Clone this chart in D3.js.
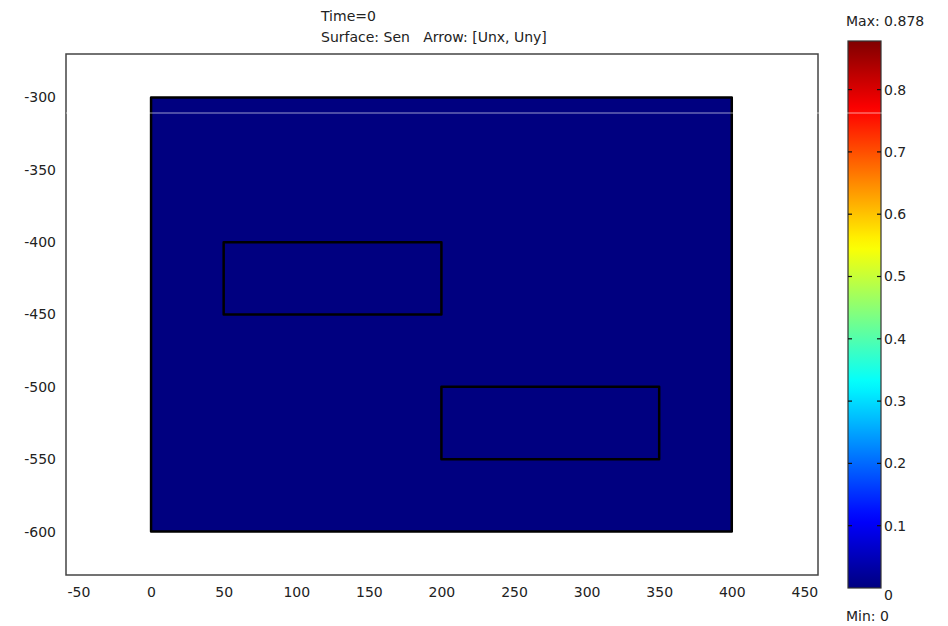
<!DOCTYPE html>
<html><head><meta charset="utf-8">
<script src="https://cdn.jsdelivr.net/npm/d3@7"></script>
<style>body{margin:0;background:#fff}text{font-family:"DejaVu Sans",Verdana,sans-serif;font-size:14px;fill:#222}</style>
</head><body><svg id="c" width="948" height="626"></svg>
<script>
const titleLines = ["Time=0", "Surface: Sen   Arrow: [Unx, Uny]"];
const xTicks = [-50, 0, 50, 100, 150, 200, 250, 300, 350, 400, 450];
const yTicks = [-300, -350, -400, -450, -500, -550, -600];
const cbTicks = [0, 0.1, 0.2, 0.3, 0.4, 0.5, 0.6, 0.7, 0.8];
const domainRect = [0, -600, 400, -300];       // x0,y0,x1,y1
const subRects = [[50, -450, 200, -400], [200, -550, 350, -500]];
const surfaceValue = 0;
const minVal = 0, maxVal = 0.878;

const svg = d3.select("#c");
const x = d3.scaleLinear().domain([-58.6, 459.4]).range([66, 818]);
const y = d3.scaleLinear().domain([-630, -270]).range([575, 54]);

function jet(t){
  const c = v => Math.max(0, Math.min(1, v));
  const r = c(1.5 - Math.abs(4*t - 3));
  const g = c(1.5 - Math.abs(4*t - 2));
  const b = c(1.5 - Math.abs(4*t - 1));
  return d3.rgb(r*255, g*255, b*255).formatHex();
}
const color = v => jet((v - minVal)/(maxVal - minVal));

// title
svg.selectAll("text.title").data(titleLines).enter().append("text")
  .attr("class","title").attr("x", 321).attr("y",(d,i)=>21+i*21)
  .attr("xml:space","preserve").style("white-space","pre").text(d=>d);

// domain
svg.append("rect").attr("x", x(domainRect[0])).attr("y", y(domainRect[3]))
  .attr("width", x(domainRect[2])-x(domainRect[0])).attr("height", y(domainRect[1])-y(domainRect[3]))
  .attr("fill", color(surfaceValue)).attr("stroke","#000").attr("stroke-width",2.5).attr("stroke-linejoin","round");
svg.selectAll("rect.sub").data(subRects).enter().append("rect").attr("class","sub")
  .attr("x", d=>x(d[0])).attr("y", d=>y(d[3]))
  .attr("width", d=>x(d[2])-x(d[0])).attr("height", d=>y(d[1])-y(d[3]))
  .attr("fill","none").attr("stroke","#000").attr("stroke-width",2.5).attr("stroke-linejoin","round");

// frame
svg.append("rect").attr("x",66).attr("y",54).attr("width",752).attr("height",521)
  .attr("fill","none").attr("stroke","#444").attr("stroke-width",1.5);

// axes
const fmt = d => String(d);
const xa = svg.append("g").attr("transform","translate(0,575)")
  .call(d3.axisBottom(x).tickValues(xTicks).tickSize(0).tickPadding(12).tickFormat(fmt));
xa.select(".domain").remove();
const ya = svg.append("g").attr("transform","translate(66,0)")
  .call(d3.axisLeft(y).tickValues(yTicks).tickSize(0).tickPadding(10).tickFormat(fmt));
ya.select(".domain").remove();
svg.selectAll(".tick text").style("font-family","DejaVu Sans").style("font-size","14px").attr("fill","#222");

// colorbar
const cb = d3.scaleLinear().domain([minVal, maxVal]).range([588, 41]);
const defs = svg.append("defs");
const grad = defs.append("linearGradient").attr("id","g").attr("x1",0).attr("y1",1).attr("x2",0).attr("y2",0);
d3.range(0,1.0001,0.02).forEach(t=>grad.append("stop").attr("offset",t).attr("stop-color",jet(t)));
svg.append("rect").attr("x",848).attr("y",cb(maxVal)).attr("width",33).attr("height",cb(minVal)-cb(maxVal))
  .attr("fill","url(#g)").attr("stroke","#333").attr("stroke-width",1.2);
const cbg = svg.append("g");
cbTicks.forEach(v=>{
  if(v>minVal){
    cbg.append("line").attr("x1",848).attr("x2",852).attr("y1",cb(v)).attr("y2",cb(v)).attr("stroke","#111").attr("stroke-width",1.2);
    cbg.append("line").attr("x1",877).attr("x2",881).attr("y1",cb(v)).attr("y2",cb(v)).attr("stroke","#111").attr("stroke-width",1.2);
  }
  cbg.append("text").attr("x",884).attr("y",cb(v)+ (v===0?12:5)).text(String(v));
});
svg.append("text").attr("x",846).attr("y",26).text("Max: "+maxVal);
svg.append("text").attr("x",846).attr("y",621).text("Min: "+minVal);

// faint render artifact line
svg.append("line").attr("x1",66).attr("x2",948).attr("y1",113).attr("y2",113).attr("stroke","#fff").attr("stroke-opacity",0.6).attr("stroke-width",1);
</script></body></html>
